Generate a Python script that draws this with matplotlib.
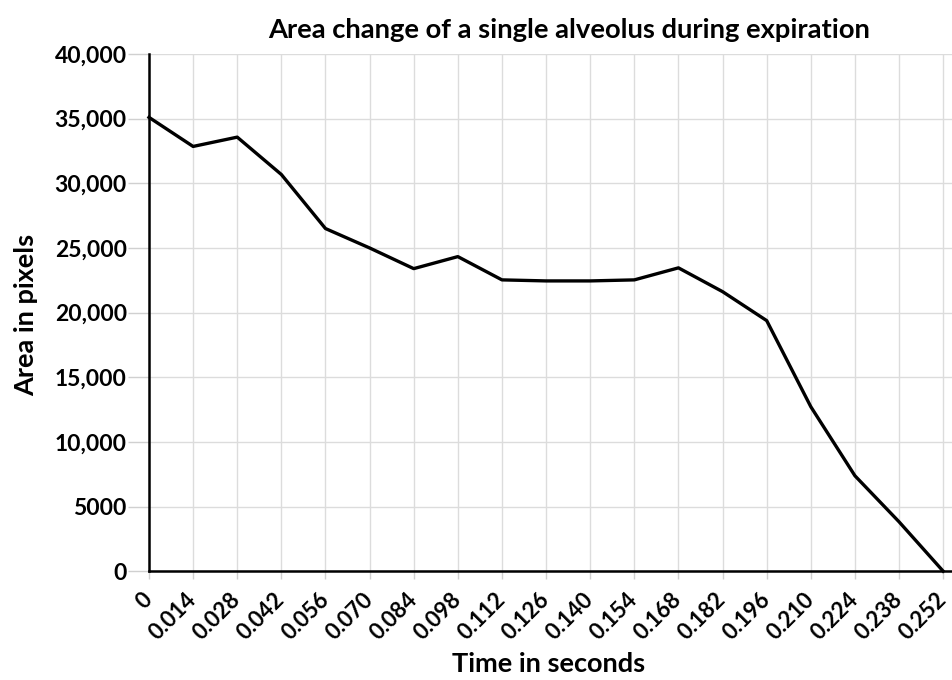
import matplotlib.pyplot as plt
import numpy as np

plt.rcParams['font.family'] = ['Lato', 'DejaVu Sans']
plt.rcParams['font.weight'] = 'bold'

times = ['0', '0.014', '0.028', '0.042', '0.056', '0.070', '0.084', '0.098',
         '0.112', '0.126', '0.140', '0.154', '0.168', '0.182', '0.196',
         '0.210', '0.224', '0.238', '0.252']
area = [35100, 32850, 33570, 30680, 26500, 25000, 23400, 24330,
        22530, 22450, 22450, 22530, 23460, 21620, 19380,
        12720, 7380, 3820, 0]
yticks = [0, 5000, 10000, 15000, 20000, 25000, 30000, 35000, 40000]
ylabels = ['0', '5000', '10,000', '15,000', '20,000', '25,000', '30,000', '35,000', '40,000']

fig = plt.figure(figsize=(9.52, 6.8), dpi=100)
ax = fig.add_axes([0.1565, 0.160, 0.8435, 0.7606])

x = np.arange(len(times))
ax.plot(x, area, color='black', lw=2.4, clip_on=False, zorder=3)

ax.set_xlim(0, len(times) - 1 + 0.2)
ax.set_ylim(0, 40000)
ax.set_xticks(x)
ax.set_xticklabels(times, rotation=45, ha='right', va='center', rotation_mode='anchor',
                   fontsize=16, fontweight='bold')
ax.set_yticks(yticks)
ax.set_yticklabels(ylabels, fontsize=16.5, fontweight='bold')
ax.tick_params(axis='x', length=6, width=1, color='#d0d0d0', pad=12)
ax.tick_params(axis='y', length=15, width=1, color='#d0d0d0', pad=1)

ax.grid(True, color='#dcdcdc', lw=1)
ax.set_axisbelow(True)
for s in ['top', 'right']:
    ax.spines[s].set_visible(False)
for s in ['left', 'bottom']:
    ax.spines[s].set_linewidth(1.8)
    ax.spines[s].set_zorder(4)

fig.text(0.576, 0.024, 'Time in seconds', ha='center', va='center',
         fontsize=19.5, fontweight='bold')
fig.text(0.027, 0.537, 'Area in pixels', ha='center', va='center', rotation=90,
         fontsize=19.5, fontweight='bold')
fig.text(0.598, 0.956, 'Area change of a single alveolus during expiration',
         ha='center', va='center', fontsize=19.7, fontweight='bold')

plt.savefig('out.png', dpi=100)
